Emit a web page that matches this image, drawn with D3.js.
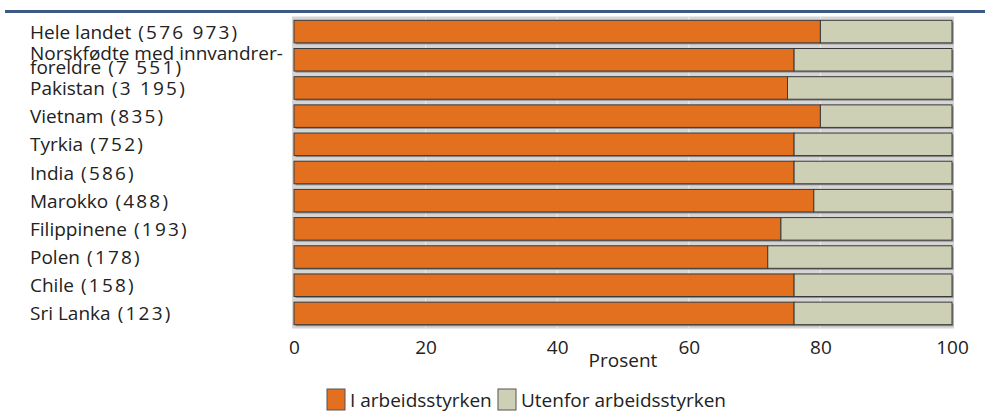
<!DOCTYPE html>
<html><head><meta charset="utf-8">
<script src="https://cdn.jsdelivr.net/npm/d3@7/dist/d3.min.js"></script>
<style>
body{margin:0;background:#fff;}
svg{display:block;font-family:"Open Sans","Noto Sans",sans-serif;}
</style></head>
<body><svg id="c" width="985" height="412"></svg>
<script>
const categories = [
  ["Hele landet", "(576 973)"],
  ["Norskfødte med innvandrer-", "foreldre", "(7 551)"],
  ["Pakistan", "(3 195)"],
  ["Vietnam", "(835)"],
  ["Tyrkia", "(752)"],
  ["India", "(586)"],
  ["Marokko", "(488)"],
  ["Filippinene", "(193)"],
  ["Polen", "(178)"],
  ["Chile", "(158)"],
  ["Sri Lanka", "(123)"]
];
const iArbeidsstyrken = [80, 76, 75, 80, 76, 76, 79, 74, 72, 76, 76];
const utenfor = [20, 24, 25, 20, 24, 24, 21, 26, 28, 24, 24];
const xTicks = [0, 20, 40, 60, 80, 100];
const seriesNames = ["I arbeidsstyrken", "Utenfor arbeidsstyrken"];
const colors = ["#e2701f", "#cdd0b4"];

const svg = d3.select("#c");
const x = d3.scaleLinear().domain([0, 100]).range([294, 952]);
const ids = categories.map((d, i) => i);
const y = d3.scaleBand().domain(ids).range([17.5, 327.5]).paddingInner(0.2).paddingOuter(0.1);

// header rule
svg.append("rect").attr("x", 5).attr("y", 10).attr("width", 980).attr("height", 3).attr("fill", "#3d5a87");

// plot background
svg.append("rect").attr("x", x(0) - 2).attr("y", 16.5).attr("width", x(100) - x(0) + 4).attr("height", 312)
  .attr("fill", "#d5d5d5");
svg.append("g").selectAll("line").data(xTicks.slice(1, -1)).join("line")
  .attr("x1", d => x(d)).attr("x2", d => x(d)).attr("y1", 16.5).attr("y2", 328.5)
  .attr("stroke", "#e9e9e9").attr("stroke-width", 1.2);

// stacked bars
const rows = ids.map(i => ({i, a: iArbeidsstyrken[i], b: utenfor[i]}));
const stack = d3.stack().keys(["a", "b"])(rows);
const g = svg.append("g");
stack.forEach(layer => {
  g.append("g").selectAll("rect").data(layer).join("rect")
    .attr("x", d => x(d[0]) + 1.5).attr("y", d => y(d.data.i) + 1.5)
    .attr("width", d => x(d[1]) - x(d[0])).attr("height", y.bandwidth())
    .attr("fill", "#8c8c8c");
});
stack.forEach((layer, k) => {
  g.append("g").selectAll("rect").data(layer).join("rect")
    .attr("x", d => x(d[0])).attr("y", d => y(d.data.i))
    .attr("width", d => x(d[1]) - x(d[0])).attr("height", y.bandwidth())
    .attr("fill", colors[k]).attr("stroke", "#3a3a3a").attr("stroke-width", 1);
});

// category labels
const lab = svg.append("g").attr("font-size", 19).attr("fill", "#222");
function num(t, s) {
  t.append("tspan").attr("letter-spacing", 2.2).text(" " + s);
}
categories.forEach((parts, i) => {
  const cy = y(i) + y.bandwidth() / 2;
  if (parts.length === 2) {
    const t = lab.append("text").attr("x", 30).attr("y", cy + 7);
    t.append("tspan").text(parts[0]);
    num(t, parts[1]);
  } else {
    lab.append("text").attr("x", 30).attr("y", cy + 0.5).text(parts[0]);
    const t = lab.append("text").attr("x", 30).attr("y", cy + 14);
    t.append("tspan").text(parts[1]);
    num(t, parts[2]);
  }
});

// x axis
const ax = svg.append("g").attr("transform", "translate(0,340)")
  .call(d3.axisBottom(x).tickValues(xTicks).tickSize(0).tickPadding(0));
ax.select(".domain").remove();
ax.selectAll("text").attr("font-size", 19).attr("fill", "#222").attr("font-family", "Open Sans, Noto Sans, sans-serif")
  .attr("dy", "0.75em");

svg.append("text").attr("x", x(50)).attr("y", 367).attr("text-anchor", "middle")
  .attr("font-size", 19).attr("fill", "#222").text("Prosent");

// legend
const leg = svg.append("g");
const legX = [327, 498];
seriesNames.forEach((n, k) => {
  leg.append("rect").attr("x", legX[k]).attr("y", 389).attr("width", 18).attr("height", 21)
    .attr("fill", colors[k]).attr("stroke", "#555").attr("stroke-width", 1);
  leg.append("text").attr("x", legX[k] + 23).attr("y", 407).attr("font-size", 19).attr("fill", "#222").text(n);
});
</script></body></html>
